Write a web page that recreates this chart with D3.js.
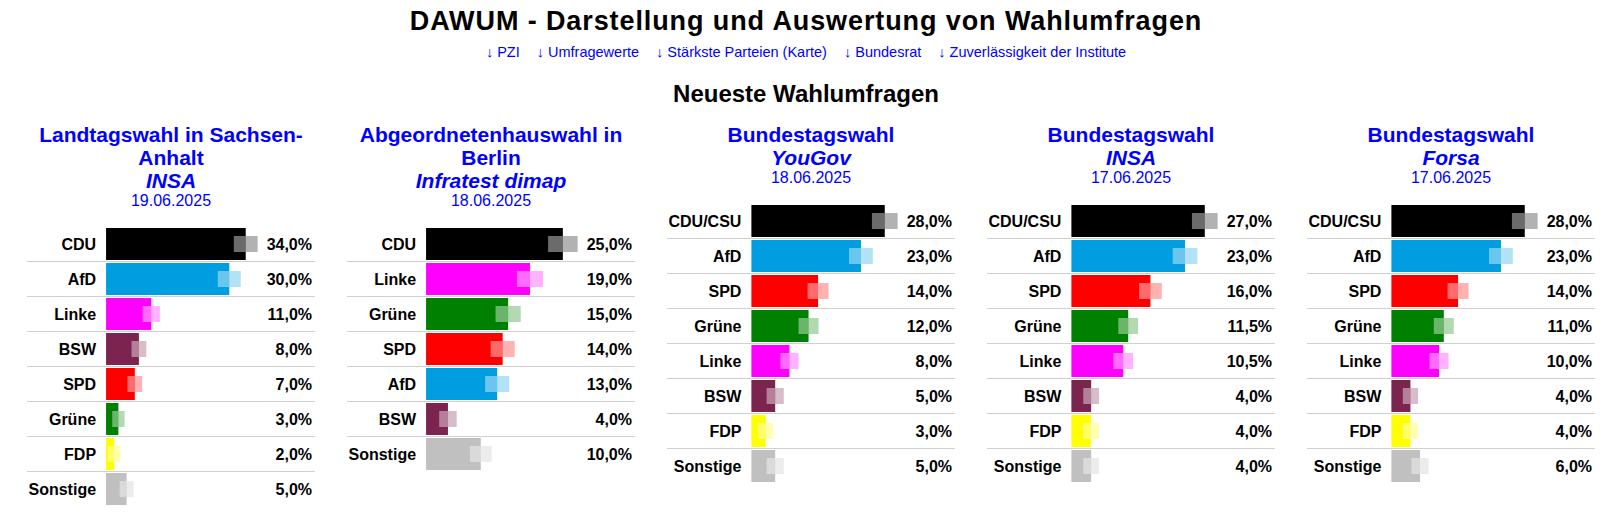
<!DOCTYPE html>
<html>
<head>
<meta charset="utf-8">
<script src="https://cdn.jsdelivr.net/npm/d3@7/dist/d3.min.js"></script>
<style>
  html, body { margin: 0; padding: 0; background: #fff; }
  svg { display: block; font-family: "Liberation Sans", Arial, sans-serif; }
</style>
</head>
<body>
<svg id="chart" width="1606" height="516"></svg>
<script>
// ---------- DATA ----------
const pageTitle = "DAWUM - Darstellung und Auswertung von Wahlumfragen";
const navLinks = ["PZI", "Umfragewerte", "Stärkste Parteien (Karte)", "Bundesrat", "Zuverlässigkeit der Institute"];
const sectionTitle = "Neueste Wahlumfragen";

const electionLines = [
  ["Landtagswahl in Sachsen-", "Anhalt"],
  ["Abgeordnetenhauswahl in", "Berlin"],
  ["Bundestagswahl"],
  ["Bundestagswahl"],
  ["Bundestagswahl"]
];
const institutes = ["INSA", "Infratest dimap", "YouGov", "INSA", "Forsa"];
const pollDates = ["19.06.2025", "18.06.2025", "18.06.2025", "17.06.2025", "17.06.2025"];

const saParties = ["CDU", "AfD", "Linke", "BSW", "SPD", "Grüne", "FDP", "Sonstige"];
const saValues  = [34, 30, 11, 8, 7, 3, 2, 5];
const saMargins = [2.9, 2.8, 2.1, 1.8, 1.8, 1.5, 1.5, 1.7];

const beParties = ["CDU", "Linke", "Grüne", "SPD", "AfD", "BSW", "Sonstige"];
const beValues  = [25, 19, 15, 14, 13, 4, 10];
const beMargins = [2.7, 2.4, 2.3, 2.2, 2.2, 1.6, 2.0];

const ygParties = ["CDU/CSU", "AfD", "SPD", "Grüne", "Linke", "BSW", "FDP", "Sonstige"];
const ygValues  = [28, 23, 14, 12, 8, 5, 3, 5];
const ygMargins = [2.7, 2.5, 2.2, 2.1, 1.9, 1.8, 1.6, 1.8];

const inParties = ["CDU/CSU", "AfD", "SPD", "Grüne", "Linke", "BSW", "FDP", "Sonstige"];
const inValues  = [27, 23, 16, 11.5, 10.5, 4, 4, 4];
const inMargins = [2.6, 2.5, 2.3, 2.0, 2.0, 1.6, 1.6, 1.6];

const foParties = ["CDU/CSU", "AfD", "SPD", "Grüne", "Linke", "BSW", "FDP", "Sonstige"];
const foValues  = [28, 23, 14, 11, 10, 4, 4, 6];
const foMargins = [2.7, 2.5, 2.2, 2.1, 2.0, 1.6, 1.6, 1.8];

const partyNames  = ["CDU", "CDU/CSU", "AfD", "SPD", "Grüne", "Linke", "BSW", "FDP", "Sonstige"];
const partyColors = ["#000000", "#000000", "#009ee0", "#ff0000", "#008000", "#ff00ff", "#7c2450", "#ffff00", "#c0c0c0"];

// ---------- BUILD ----------
const panelParties = [saParties, beParties, ygParties, inParties, foParties];
const panelValues  = [saValues, beValues, ygValues, inValues, foValues];
const panelMargins = [saMargins, beMargins, ygMargins, inMargins, foMargins];

const color = d3.scaleOrdinal().domain(partyNames).range(partyColors);
const locale = d3.formatLocale({decimal: ",", thousands: ".", grouping: [3], currency: ["", "€"]});
const fmt = locale.format(".1f");

const svg = d3.select("#chart");
const centerX = 806;
const blue = "#0000ff";

// Header
svg.append("text")
  .attr("x", centerX).attr("y", 30)
  .attr("text-anchor", "middle")
  .attr("font-size", 27).attr("font-weight", "bold")
  .attr("letter-spacing", "0.9px")
  .attr("fill", "#000")
  .text(pageTitle);

const nav = svg.append("g");
const navItems = nav.selectAll("text").data(navLinks).join("text")
  .attr("y", 56.5)
  .attr("font-size", 14.5)
  .attr("fill", blue)
  .text(d => "\u2193 " + d);
let cursor = 0;
const gap = 17;
navItems.each(function() {
  const w = this.getComputedTextLength();
  d3.select(this).attr("x", cursor);
  cursor += w + gap;
});
const navW = cursor - gap;
nav.attr("transform", `translate(${centerX - navW / 2},0)`);

svg.append("text")
  .attr("x", centerX).attr("y", 101.5)
  .attr("text-anchor", "middle")
  .attr("font-size", 24).attr("font-weight", "bold")
  .attr("fill", "#000")
  .text(sectionTitle);

// Panels
const panelW = 288;
const panelLefts = d3.range(5).map(i => 27 + i * 320);

panelParties.forEach((parties, i) => {
  const left = panelLefts[i];
  const right = left + panelW;
  const cx = left + panelW / 2;
  const g = svg.append("g");
  const rows = parties.map((p, j) => ({party: p, value: panelValues[i][j], margin: panelMargins[i][j]}));

  // title block
  let y = 142;
  electionLines[i].forEach(line => {
    g.append("text").attr("x", cx).attr("y", y)
      .attr("text-anchor", "middle").attr("font-size", 21).attr("font-weight", "bold")
      .attr("fill", blue).text(line);
    y += 23;
  });
  g.append("text").attr("x", cx).attr("y", y)
    .attr("text-anchor", "middle").attr("font-size", 21).attr("font-weight", "bold")
    .attr("font-style", "italic").attr("fill", blue).text(institutes[i]);
  y += 18;
  g.append("text").attr("x", cx).attr("y", y)
    .attr("text-anchor", "middle").attr("font-size", 16)
    .attr("fill", blue).text(pollDates[i]);
  const top = y + 22;

  const yBand = d3.scaleBand()
    .domain(parties)
    .range([top, top + parties.length * 35 - 3])
    .paddingInner(3 / 35)
    .paddingOuter(0);

  // labels (measure widths)
  const labels = g.selectAll("text.lab").data(rows).join("text").attr("class", "lab")
    .attr("y", d => yBand(d.party) + yBand.bandwidth() / 2)
    .attr("dy", "0.36em")
    .attr("text-anchor", "end")
    .attr("font-size", 16).attr("font-weight", "bold")
    .attr("fill", "#000")
    .text(d => d.party);
  let maxLab = 0;
  labels.each(function() { maxLab = Math.max(maxLab, this.getComputedTextLength()); });
  const labRight = left + 1.5 + maxLab;
  labels.attr("x", labRight);
  const barStart = labRight + 10;

  const vals = g.selectAll("text.val").data(rows).join("text").attr("class", "val")
    .attr("x", right - 3)
    .attr("y", d => yBand(d.party) + yBand.bandwidth() / 2)
    .attr("dy", "0.36em")
    .attr("text-anchor", "end")
    .attr("font-size", 16).attr("font-weight", "bold")
    .attr("fill", "#000")
    .text(d => fmt(d.value) + "%");
  let maxVal = 0;
  vals.each(function() { maxVal = Math.max(maxVal, this.getComputedTextLength()); });

  const x = d3.scaleLinear()
    .domain([0, d3.max(rows, d => d.value + d.margin)])
    .range([barStart, right - 3 - maxVal - 9]);

  // separators between rows
  g.selectAll("rect.sep").data(rows.slice(0, -1)).join("rect").attr("class", "sep")
    .attr("x", left).attr("width", panelW)
    .attr("y", d => yBand(d.party) + yBand.bandwidth() + 1)
    .attr("height", 1)
    .attr("fill", "#d0d0d0");

  // bars
  g.selectAll("rect.bar").data(rows).join("rect").attr("class", "bar")
    .attr("x", x(0))
    .attr("y", d => yBand(d.party))
    .attr("width", d => x(d.value) - x(0))
    .attr("height", yBand.bandwidth())
    .attr("fill", d => color(d.party));

  const gh = 16;
  // error margin: inner part (lightened bar)
  g.selectAll("rect.errIn").data(rows).join("rect").attr("class", "errIn")
    .attr("x", d => x(d.value - d.margin))
    .attr("y", d => yBand(d.party) + (yBand.bandwidth() - gh) / 2)
    .attr("width", d => x(d.value) - x(d.value - d.margin))
    .attr("height", gh)
    .attr("fill", "#fff").attr("fill-opacity", 0.42);
  // error margin: outer part (faded colour)
  g.selectAll("rect.errOut").data(rows).join("rect").attr("class", "errOut")
    .attr("x", d => x(d.value))
    .attr("y", d => yBand(d.party) + (yBand.bandwidth() - gh) / 2)
    .attr("width", d => x(d.value + d.margin) - x(d.value))
    .attr("height", gh)
    .attr("fill", d => color(d.party)).attr("fill-opacity", 0.3);
});
</script>
</body>
</html>
